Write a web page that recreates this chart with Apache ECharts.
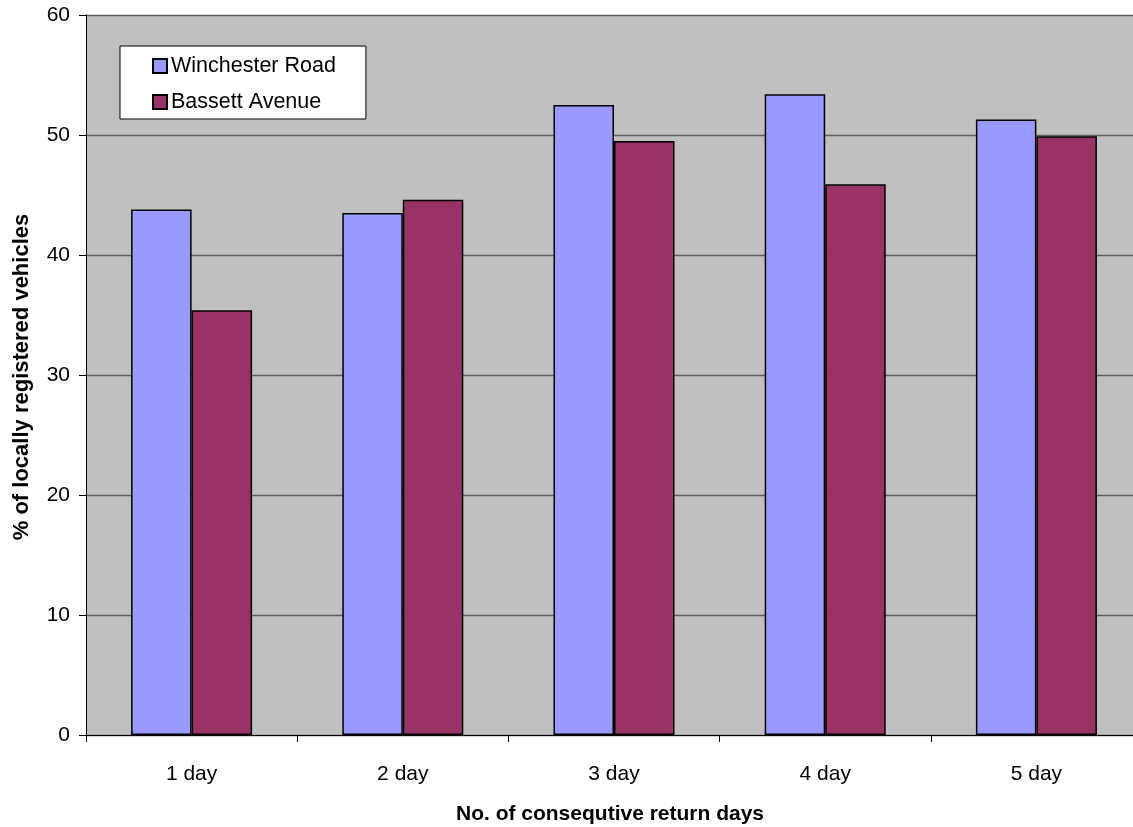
<!DOCTYPE html>
<html>
<head>
<meta charset="utf-8">
<script src="https://cdn.jsdelivr.net/npm/echarts@6/dist/echarts.min.js"></script>
<style>
html,body{margin:0;padding:0;background:#fff;overflow:hidden;}
#chart{width:1150px;height:827px;}
</style>
</head>
<body>
<div id="chart"></div>
<script>
const categories = ['1 day', '2 day', '3 day', '4 day', '5 day'];
const winchesterRoad = [43.8, 43.5, 52.5, 53.4, 51.3];
const bassettAvenue = [35.4, 44.6, 49.5, 45.9, 49.9];
const seriesNames = ['Winchester Road', 'Bassett Avenue'];
const xTitle = 'No. of consequtive return days';
const yTitle = '% of locally registered vehicles';

const FONT = '"Liberation Sans", Arial, sans-serif';
const chart = echarts.init(document.getElementById('chart'), null, {renderer: 'canvas'});
chart.setOption({
  animation: false,
  backgroundColor: '#ffffff',
  textStyle: {fontFamily: FONT, color: '#000'},
  grid: {
    left: 86, top: 15, width: 1056, height: 720,
    show: true, backgroundColor: '#C0C0C0', borderWidth: 0,
    containLabel: false
  },
  legend: {
    orient: 'vertical',
    left: 120, top: 46,
    padding: [9, 30, 6, 32],
    backgroundColor: '#ffffff',
    borderColor: '#000000',
    borderWidth: 1,
    borderRadius: 0,
    itemWidth: 14, itemHeight: 14,
    itemGap: 14,
    icon: 'rect',
    textStyle: {fontFamily: FONT, fontSize: 21.5, color: '#000', padding: [0, 0, 0, -1]},
    data: seriesNames
  },
  xAxis: {
    type: 'category',
    data: categories,
    boundaryGap: true,
    axisLine: {show: true, lineStyle: {color: '#000', width: 1}},
    axisTick: {show: true, length: 7, inside: false, lineStyle: {color: '#000'}},
    axisLabel: {fontFamily: FONT, fontSize: 21, color: '#000', margin: 29},
    splitLine: {show: false}
  },
  yAxis: {
    type: 'value',
    min: 0, max: 60, interval: 10,
    axisLine: {show: true, lineStyle: {color: '#000', width: 1}},
    axisTick: {show: true, length: 7, lineStyle: {color: '#000'}},
    axisLabel: {fontFamily: FONT, fontSize: 21, color: '#000', margin: 16},
    splitLine: {show: true, lineStyle: {color: '#5c5c5c', width: 1.3}}
  },
  graphic: [
    {
      type: 'text',
      x: 610, y: 814,
      style: {text: xTitle, font: 'bold 21px ' + FONT, fill: '#000', align: 'center', verticalAlign: 'middle'}
    },
    {
      type: 'text',
      x: 22, y: 377, rotation: Math.PI / 2,
      style: {text: yTitle, font: 'bold 22px ' + FONT, fill: '#000', align: 'center', verticalAlign: 'middle'}
    }
  ],
  series: [
    {
      name: seriesNames[0], type: 'bar', data: winchesterRoad,
      barGap: '0%', barCategoryGap: '42.7%',
      itemStyle: {color: '#9999FF', borderColor: '#000', borderWidth: 1.5}
    },
    {
      name: seriesNames[1], type: 'bar', data: bassettAvenue,
      barGap: '0%', barCategoryGap: '42.7%',
      itemStyle: {color: '#993366', borderColor: '#000', borderWidth: 1.5}
    }
  ]
});
</script>
</body>
</html>
